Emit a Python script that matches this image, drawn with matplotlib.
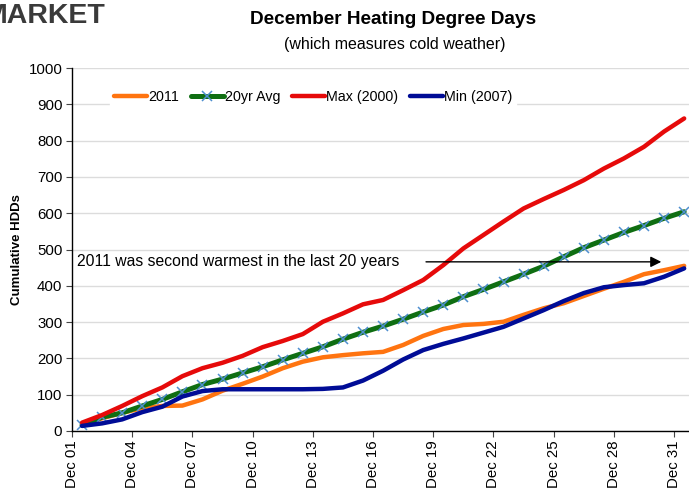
"""December heating degree days chart (cumulative HDDs)"""

import matplotlib
matplotlib.use('Agg')
import matplotlib.pyplot as plt

plt.rcParams['font.family'] = ['Liberation Sans', 'DejaVu Sans']

# cumulative HDDs per day, Dec 01 .. Dec 31
days = [f"Dec {d:02d}" for d in range(1, 32)]
hdd_2011 = [19, 35, 50, 63, 69, 70, 87, 111, 130, 150, 173, 191, 203, 209, 214, 218,
            237, 262, 281, 292, 295, 301, 320, 338, 352, 372, 392, 411, 432, 443, 455]
hdd_avg = [16, 38, 50, 69, 87, 108, 128, 143, 160, 177, 196, 214, 232, 253, 272, 289,
           308, 328, 347, 370, 390, 411, 432, 454, 480, 505, 526, 547, 566, 586, 604]
hdd_max = [23, 44, 69, 96, 120, 151, 173, 188, 207, 231, 248, 267, 301, 324, 349, 361,
           388, 416, 457, 503, 540, 577, 613, 639, 664, 691, 723, 751, 783, 825, 861]
hdd_min = [14, 21, 32, 52, 67, 95, 110, 115, 115, 115, 115, 115, 116, 120, 139, 166,
           197, 223, 240, 255, 271, 287, 310, 333, 358, 380, 396, 402, 407, 425, 448]
series_labels = ["2011", "20yr Avg", "Max (2000)", "Min (2007)"]
y_ticks = list(range(0, 1001, 100))
note = "2011 was second warmest in the last 20 years"

fig = plt.figure(figsize=(6.89, 4.91), dpi=100)
ax = fig.add_axes([72 / 689, 60 / 491, 622.2 / 689, 363 / 491])

# Excel-style category axis: points sit in the middle of each category
xs = [i + 0.5 for i in range(len(days))]

ax.plot(xs, hdd_2011, color='#ff7410', lw=3.2, solid_joinstyle='round',
        solid_capstyle='round', label=series_labels[0], zorder=3)
ax.plot(xs, hdd_avg, color='#0f6e12', lw=3.6, solid_joinstyle='round',
        solid_capstyle='round', marker='x', ms=6.5, mec='#4f8fd0', mew=1.1,
        label=series_labels[1], zorder=4)
ax.plot(xs, hdd_max, color='#e60a0a', lw=3.2, solid_joinstyle='round',
        solid_capstyle='round', label=series_labels[2], zorder=5)
ax.plot(xs, hdd_min, color='#000c96', lw=3.2, solid_joinstyle='round',
        solid_capstyle='round', label=series_labels[3], zorder=6)

ax.set_xlim(0, 31)
ax.set_ylim(0, 1000)
ax.set_xticks(range(0, 31, 3))
ax.set_xticklabels(days[::3], rotation=90, fontsize=10.8)
ax.set_yticks(y_ticks)
ax.set_yticklabels([str(v) for v in y_ticks], fontsize=10.8)
ax.tick_params(axis='both', length=4, width=0.8, color='#444444', pad=3)

ax.grid(axis='y', color='#dcdcdc', lw=1.0, zorder=0)
ax.set_axisbelow(True)
for side in ('top', 'right'):
    ax.spines[side].set_visible(False)
ax.spines['left'].set_linewidth(1.0)
ax.spines['bottom'].set_linewidth(1.0)

ax.set_ylabel("Cumulative HDDs", fontsize=9.5, fontweight='bold')
ax.yaxis.set_label_coords(-49 / 622, 0.5)

leg = ax.legend(loc='center left', bbox_to_anchor=(38 / 622, 0.92), ncol=4,
                fontsize=10.3, frameon=True, fancybox=False, handlelength=2.3,
                handletextpad=0.05, columnspacing=0.85, borderpad=0.3,
                borderaxespad=0)
leg.get_frame().set_facecolor('white')
leg.get_frame().set_edgecolor('white')
leg.get_frame().set_alpha(1)
leg.set_zorder(10)

# annotation with arrow
ax.text(0.25, 466, note, fontsize=11.35, va='center', ha='left', zorder=8)
ax.annotate("", xy=(29.5, 466), xytext=(17.5, 466),
            arrowprops=dict(arrowstyle='-|>', color='black', lw=1.0,
                            mutation_scale=16), zorder=8)

fig.text(393 / 689, 1 - 20 / 491, "December Heating Degree Days", ha='center',
         va='center', fontsize=13.7, fontweight='bold')
fig.text(395 / 689, 1 - 44 / 491, "(which measures cold weather)", ha='center',
         va='center', fontsize=11.5)
fig.text(-17 / 689, 1 - 16 / 491, "MARKET", ha='left', va='center',
         fontsize=20.5, fontweight='bold', color='#3a3a3a')

fig.savefig('out.png', dpi=100)
